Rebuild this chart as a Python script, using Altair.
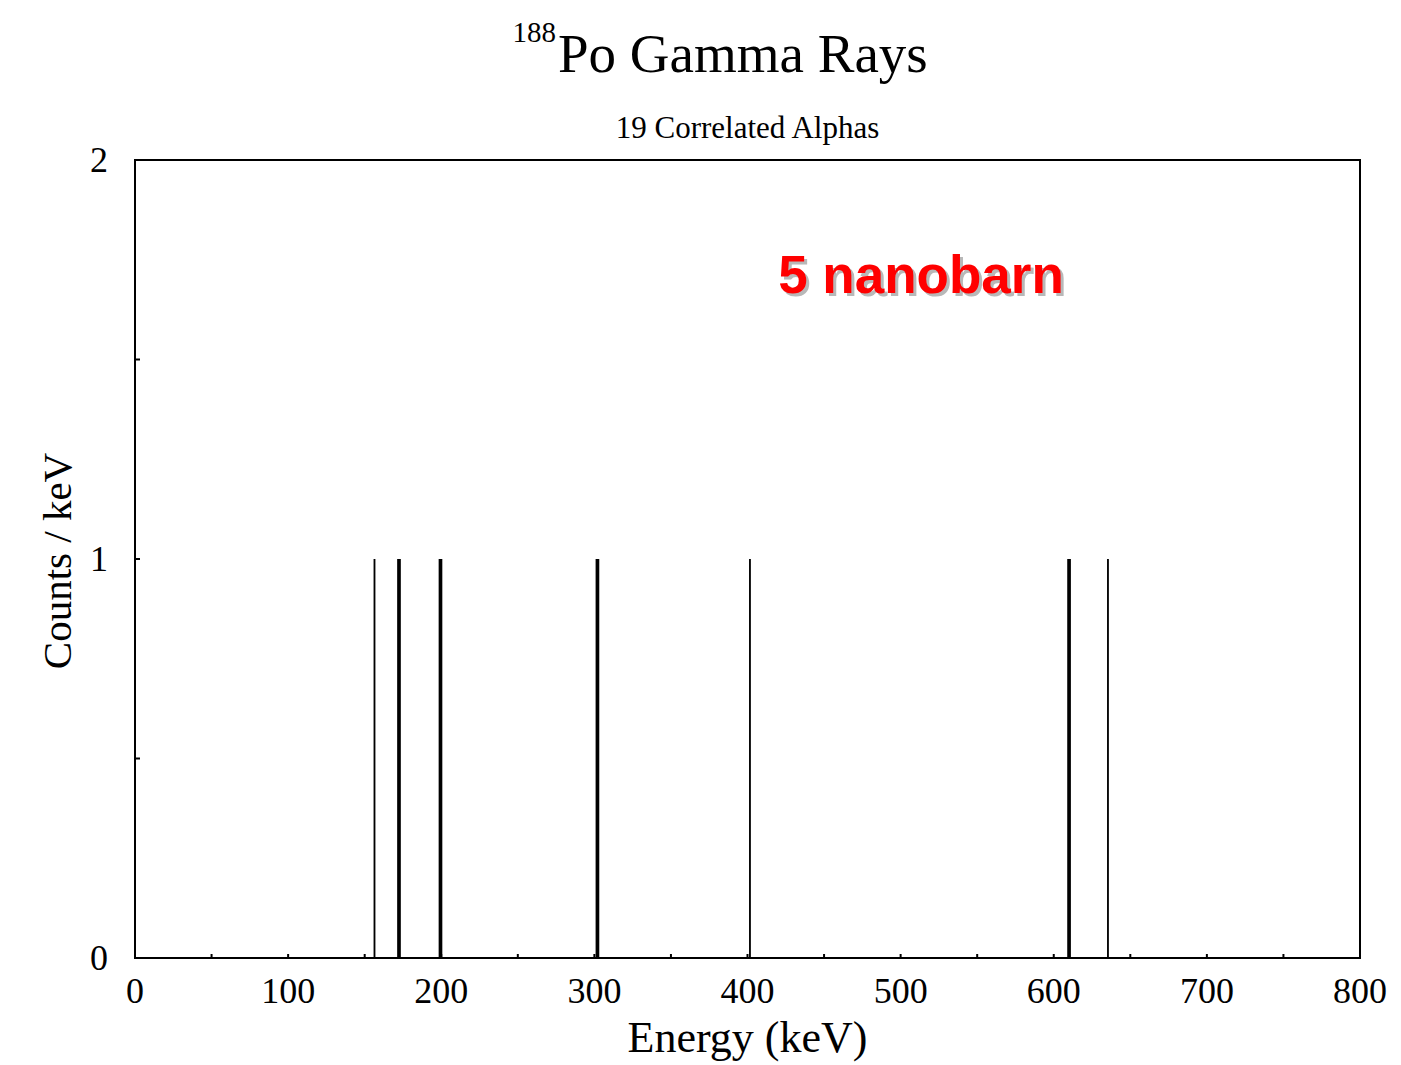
import altair as alt
import pandas as pd

# Gamma-ray lines (histogram bins, keV) and counts per keV
bin_lo = [155.8, 171.2, 198.3, 300.8, 401.0, 608.8, 634.8]
bin_hi = [157.0, 173.6, 200.7, 303.2, 402.2, 611.2, 636.0]
counts = [1, 1, 1, 1, 1, 1, 1]

x_ticks = [0, 100, 200, 300, 400, 500, 600, 700, 800]
x_tick_labels = ["0", "100", "200", "300", "400", "500", "600", "700", "800"]
x_minor = [50, 100, 150, 200, 250, 300, 350, 400, 450, 500, 550, 600, 650, 700, 750]
y_ticks = [0, 1, 2]
y_tick_labels = ["0", "1", "2"]
y_minor = [0.5, 1, 1.5]

W, H = 1225, 798
SERIF = "Liberation Serif"

bars = pd.DataFrame({"lo": bin_lo, "hi": bin_hi, "c": counts})
xm = pd.DataFrame({"e": x_minor})
ym = pd.DataFrame({"v": y_minor})
xl = pd.DataFrame({"e": x_ticks, "t": x_tick_labels})
yl = pd.DataFrame({"v": y_ticks, "t": y_tick_labels})

xscale = alt.Scale(domain=[0, 800], nice=False, zero=False)
yscale = alt.Scale(domain=[0, 2], nice=False)

base_bars = alt.Chart(bars).mark_rect(color="black").encode(
    x=alt.X("lo:Q", scale=xscale, axis=None),
    x2="hi:Q",
    y=alt.Y("c:Q", scale=yscale, axis=None),
    y2=alt.datum(0),
)

xticks_layer = alt.Chart(xm).mark_rule(color="black", strokeWidth=2).encode(
    x=alt.X("e:Q", scale=xscale, axis=None), y=alt.value(H), y2=alt.value(H - 4)
)
yticks_layer = alt.Chart(ym).mark_rule(color="black", strokeWidth=2).encode(
    y=alt.Y("v:Q", scale=yscale, axis=None), x=alt.value(0), x2=alt.value(5)
)

xlabels = alt.Chart(xl).mark_text(
    font=SERIF, fontSize=36, color="black", align="center", baseline="alphabetic"
).encode(x=alt.X("e:Q", scale=xscale, axis=None), y=alt.value(H + 45), text="t:N")
ylabels = alt.Chart(yl).mark_text(
    font=SERIF, fontSize=36, color="black", align="right", baseline="middle", dy=1
).encode(y=alt.Y("v:Q", scale=yscale, axis=None), x=alt.value(-27), text="t:N")

def txt(text, x, y, size, align="left", font=SERIF, color="black", weight="normal",
        baseline="alphabetic", angle=0):
    return alt.Chart(pd.DataFrame({"t": [text]})).mark_text(
        font=font, fontSize=size, color=color, fontWeight=weight, align=align,
        baseline=baseline, angle=angle
    ).encode(text="t:N", x=alt.value(x), y=alt.value(y))

x_title = txt("Energy (keV)", W / 2, 892, 44, align="center")
y_title = txt("Counts / keV", -64, H / 2 + 2, 41, align="center", angle=270)
title_main = txt("Po Gamma Rays", 423, -88, 55)
title_sup = txt("188", 421, -118, 29, align="right")
subtitle = txt("19 Correlated Alphas", 612.5, -22, 31, align="center")

SANS = "Liberation Sans Narrow, Arial Narrow, Liberation Sans"
label_df = pd.DataFrame({"t": ["5 nanobarn"], "x": [420], "y": [1.667]})
shadow = alt.Chart(label_df).mark_text(
    font=SANS, fontSize=53, fontWeight="bold", color="#b8b8b8", align="left",
    baseline="alphabetic", dx=3, dy=3
).encode(text="t:N", x=alt.X("x:Q", scale=xscale, axis=None), y=alt.Y("y:Q", scale=yscale, axis=None))
red = alt.Chart(label_df).mark_text(
    font=SANS, fontSize=53, fontWeight="bold", color="#ff0000", align="left",
    baseline="alphabetic"
).encode(text="t:N", x=alt.X("x:Q", scale=xscale, axis=None), y=alt.Y("y:Q", scale=yscale, axis=None))

chart = alt.layer(
    base_bars, xticks_layer, yticks_layer, xlabels, ylabels, x_title, y_title,
    title_main, title_sup, subtitle, shadow, red
).properties(
    width=W, height=H,
    autosize=alt.AutoSizeParams(type="none"),
    padding={"left": 135, "top": 160, "right": 41, "bottom": 107},
    background="white",
).configure_view(stroke="black", strokeWidth=2)

chart.save("out.html", embed_options={"renderer": "svg", "actions": False})
